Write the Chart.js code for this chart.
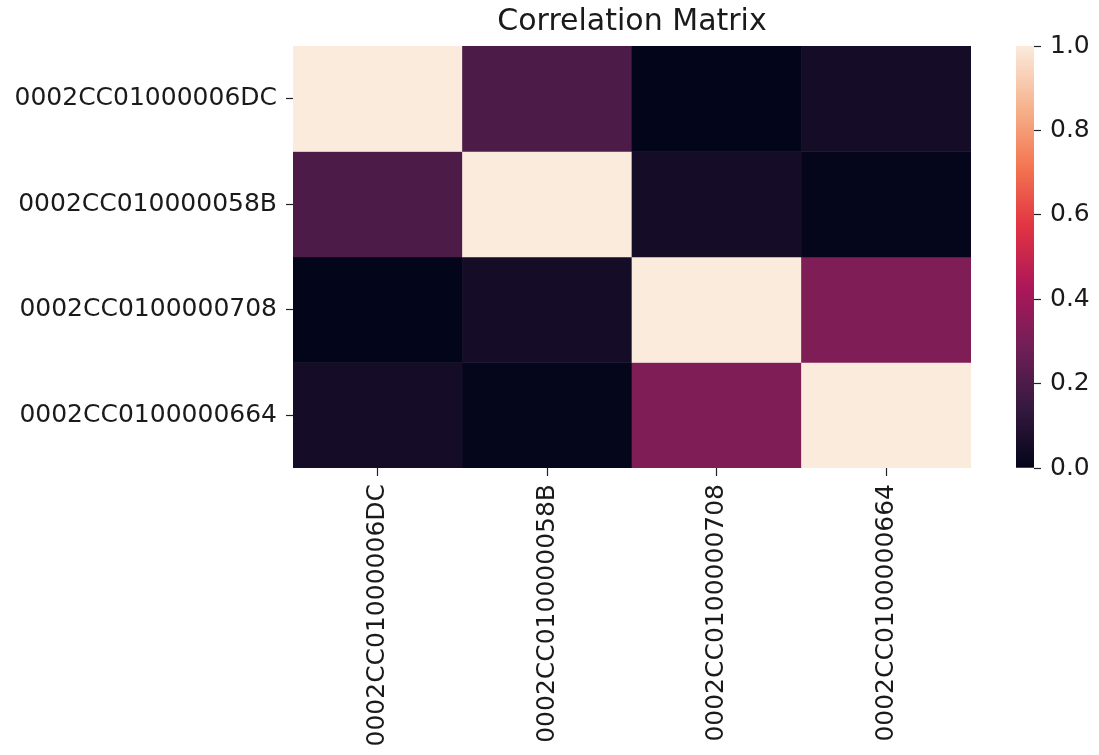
<!DOCTYPE html>
<html><head><meta charset="utf-8">
<script src="https://cdn.jsdelivr.net/npm/chart.js@4"></script>
<style>
html,body{margin:0;padding:0;background:#fff;overflow:hidden;width:1099px;height:755px;}
#main{position:absolute;left:0;top:0;}
#cbar{position:absolute;left:1000px;top:0;}
</style></head><body>
<canvas id="main" width="1000" height="800"></canvas>
<canvas id="cbar" width="99" height="755"></canvas>
<script>
// ---- data ----
const labels = ['0002CC01000006DC', '0002CC010000058B', '0002CC0100000708', '0002CC0100000664'];
const row6DC = [1.00, 0.20, 0.00, 0.05];
const row58B = [0.20, 1.00, 0.05, 0.005];
const row708 = [0.00, 0.05, 1.00, 0.32];
const row664 = [0.05, 0.005, 0.32, 1.00];
const rows = [row6DC, row58B, row708, row664];
const cbarTicks = [0.0, 0.2, 0.4, 0.6, 0.8, 1.0];
const titleText = 'Correlation Matrix';

// ---- rocket colormap (anchors) ----
const rocketStops = [
  [0/7, '#03051a'], [1/7, '#35193e'], [2/7, '#701f57'], [3/7, '#ad1759'],
  [4/7, '#e13342'], [5/7, '#f37651'], [6/7, '#f6b48f'], [7/7, '#faebdd']
];
function hex2rgb(h){return [parseInt(h.slice(1,3),16),parseInt(h.slice(3,5),16),parseInt(h.slice(5,7),16)];}
function rocket(v){
  v = Math.max(0, Math.min(1, v));
  for (let i = 1; i < rocketStops.length; i++) {
    if (v <= rocketStops[i][0]) {
      const [t0, c0] = rocketStops[i-1], [t1, c1] = rocketStops[i];
      const f = (v - t0) / (t1 - t0);
      const a = hex2rgb(c0), b = hex2rgb(c1);
      return 'rgb(' + a.map((x, k) => Math.round(x + (b[k] - x) * f)).join(',') + ')';
    }
  }
  return rocketStops[rocketStops.length-1][1];
}

const FONT = 'DejaVu Sans';
const TXT = '#1a1a1a';
const TICKFS = 25;

const datasets = rows.map((vals, r) => ({
  data: labels.map(() => [r, r + 1]),
  backgroundColor: vals.map(rocket),
  borderWidth: 0,
  grouped: false,
  barPercentage: 1,
  categoryPercentage: 1
}));

new Chart(document.getElementById('main'), {
  type: 'bar',
  data: { labels: labels, datasets: datasets },
  options: {
    responsive: false, animation: false,
    layout: { padding: { left: 0, right: 29, top: 0, bottom: 0 } },
    plugins: {
      legend: { display: false }, tooltip: { enabled: false },
      title: { display: true, text: titleText, fullSize: false, color: TXT,
        font: { family: FONT, size: 30, weight: 'normal' }, padding: { top: 4, bottom: 6 } }
    },
    scales: {
      x: {
        type: 'category', offset: true,
        grid: { offset: false, drawOnChartArea: false, drawTicks: true, tickLength: 8, tickColor: '#222', tickWidth: 1.2 },
        border: { display: false },
        ticks: { maxRotation: 90, minRotation: 90, autoSkip: false, padding: 8, color: TXT, font: { family: FONT, size: TICKFS } },
        afterFit: s => { s.height = 800 - 468; }
      },
      y: {
        type: 'linear', min: 0, max: 4, reverse: true, position: 'left',
        afterBuildTicks: s => { s.ticks = [0.5, 1.5, 2.5, 3.5].map(v => ({ value: v })); },
        grid: { drawOnChartArea: false, drawTicks: true, tickLength: 7, tickColor: '#222', tickWidth: 1.2 },
        border: { display: false },
        ticks: { padding: 9, color: TXT, font: { family: FONT, size: TICKFS }, callback: (v, i) => labels[i] },
        afterFit: s => { s.width = 293; }
      }
    }
  }
});

// ---- colorbar ----
new Chart(document.getElementById('cbar'), {
  type: 'bar',
  data: { labels: ['cbar'], datasets: [{
    data: [[cbarTicks[0], cbarTicks[cbarTicks.length - 1]]],
    borderWidth: 0, barPercentage: 1, categoryPercentage: 1,
    backgroundColor: ctx => {
      const ca = ctx.chart.chartArea;
      if (!ca) return '#000';
      const g = ctx.chart.ctx.createLinearGradient(0, ca.bottom, 0, ca.top);
      rocketStops.forEach(([t, c]) => g.addColorStop(t, c));
      return g;
    }
  }] },
  options: {
    responsive: false, animation: false,
    layout: { padding: { left: 16, right: 0, top: 46, bottom: 755 - 468 } },
    plugins: { legend: { display: false }, tooltip: { enabled: false }, title: { display: false } },
    scales: {
      x: { display: false, offset: true },
      y: {
        type: 'linear', position: 'right', min: 0, max: 1,
        afterBuildTicks: s => { s.ticks = cbarTicks.map(v => ({ value: v })); },
        grid: { drawOnChartArea: false, drawTicks: true, tickLength: 7, tickColor: '#222', tickWidth: 1.2 },
        border: { display: false },
        ticks: { padding: 9, color: TXT, font: { family: FONT, size: TICKFS }, callback: v => v.toFixed(1) },
        afterFit: s => { s.width = 65; }
      }
    }
  }
});
</script>
</body></html>
